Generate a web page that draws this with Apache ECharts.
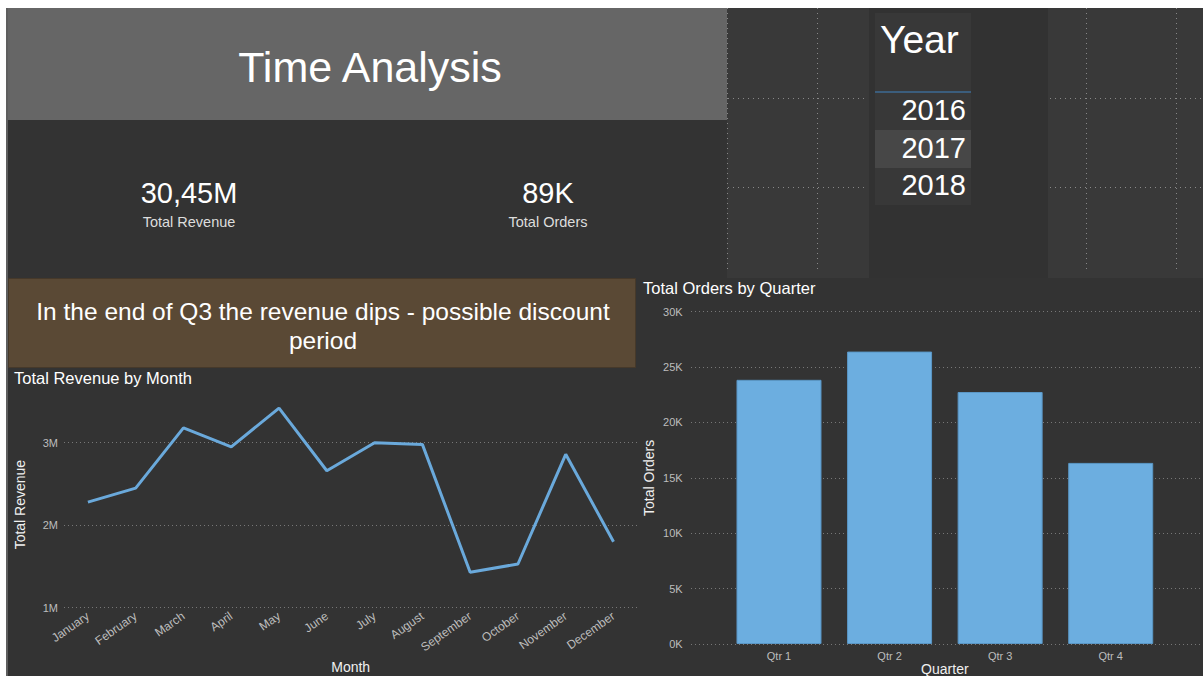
<!DOCTYPE html>
<html>
<head>
<meta charset="utf-8">
<script src="https://cdn.jsdelivr.net/npm/echarts@6/dist/echarts.min.js"></script>
<style>
html,body{margin:0;padding:0;background:#ffffff;}
#chart{width:1203px;height:676px;}
</style>
</head>
<body>
<div id="chart"></div>
<script>
// ---- data ----
const pageTitle = 'Time Analysis';
const kpiValues = ['30,45M', '89K'];
const kpiLabels = ['Total Revenue', 'Total Orders'];
const slicerTitle = 'Year';
const years = ['2016', '2017', '2018'];
const note = 'In the end of Q3 the revenue dips - possible discount\nperiod';

const months = ['January','February','March','April','May','June','July','August','September','October','November','December'];
const revenue = [2280000, 2450000, 3180000, 2950000, 3420000, 2660000, 3000000, 2980000, 1430000, 1530000, 2860000, 1800000];
const revenueTicks = [1000000, 2000000, 3000000];

const quarters = ['Qtr 1', 'Qtr 2', 'Qtr 3', 'Qtr 4'];
const orders = [23850, 26400, 22750, 16350];
const orderTicks = [0, 5000, 10000, 15000, 20000, 25000, 30000];

// ---- chart ----
const chart = echarts.init(document.getElementById('chart'), null, {renderer: 'svg'});
const FONT = '"Liberation Sans", Arial, sans-serif';
const dots = {type: [1, 3], color: '#777', width: 1};

const graphics = [
  // page base
  {type: 'rect', shape: {x: 6, y: 8, width: 1197, height: 668}, style: {fill: '#333333'}, z: -10},
  {type: 'rect', shape: {x: 6, y: 8, width: 2, height: 668}, style: {fill: '#5e5e5e'}, z: -9},
  // header
  {type: 'rect', shape: {x: 8, y: 8, width: 719, height: 112}, style: {fill: '#666666'}, z: -9},
  {type: 'text', x: 370, y: 67, style: {text: pageTitle, font: '43px ' + FONT, fill: '#ffffff', align: 'center', verticalAlign: 'middle'}},
  // KPI cards
  {type: 'text', x: 189, y: 193, style: {text: kpiValues[0], font: '29px ' + FONT, fill: '#ffffff', align: 'center', verticalAlign: 'middle'}},
  {type: 'text', x: 189, y: 222, style: {text: kpiLabels[0], font: '14.5px ' + FONT, fill: '#dddddd', align: 'center', verticalAlign: 'middle'}},
  {type: 'text', x: 548, y: 193, style: {text: kpiValues[1], font: '29px ' + FONT, fill: '#ffffff', align: 'center', verticalAlign: 'middle'}},
  {type: 'text', x: 548, y: 222, style: {text: kpiLabels[1], font: '14.5px ' + FONT, fill: '#dddddd', align: 'center', verticalAlign: 'middle'}},
  // slicer area panels
  {type: 'rect', shape: {x: 727, y: 8, width: 142, height: 270}, style: {fill: '#393939'}, z: -9},
  {type: 'rect', shape: {x: 869, y: 8, width: 179, height: 270}, style: {fill: '#323232'}, z: -9},
  {type: 'rect', shape: {x: 1048, y: 8, width: 155, height: 270}, style: {fill: '#393939'}, z: -9},
  {type: 'line', shape: {x1: 727.5, y1: 8, x2: 727.5, y2: 272}, style: {stroke: '#888', lineDash: [1, 4], lineWidth: 1}, z: -8},
  {type: 'line', shape: {x1: 817.5, y1: 8, x2: 817.5, y2: 272}, style: {stroke: '#888', lineDash: [1, 4], lineWidth: 1}, z: -8},
  {type: 'line', shape: {x1: 728, y1: 98.5, x2: 865, y2: 98.5}, style: {stroke: '#888', lineDash: [1, 4], lineWidth: 1}, z: -8},
  {type: 'line', shape: {x1: 728, y1: 187.5, x2: 865, y2: 187.5}, style: {stroke: '#888', lineDash: [1, 4], lineWidth: 1}, z: -8},
  {type: 'line', shape: {x1: 1086.5, y1: 8, x2: 1086.5, y2: 272}, style: {stroke: '#888', lineDash: [1, 4], lineWidth: 1}, z: -8},
  {type: 'line', shape: {x1: 1176.5, y1: 8, x2: 1176.5, y2: 272}, style: {stroke: '#888', lineDash: [1, 4], lineWidth: 1}, z: -8},
  {type: 'line', shape: {x1: 1050, y1: 98.5, x2: 1203, y2: 98.5}, style: {stroke: '#888', lineDash: [1, 4], lineWidth: 1}, z: -8},
  {type: 'line', shape: {x1: 1050, y1: 187.5, x2: 1203, y2: 187.5}, style: {stroke: '#888', lineDash: [1, 4], lineWidth: 1}, z: -8},
  // slicer
  {type: 'rect', shape: {x: 875, y: 13, width: 96, height: 192}, style: {fill: '#383838'}, z: -7},
  {type: 'rect', shape: {x: 875, y: 91, width: 96, height: 2}, style: {fill: '#3b5d7c'}, z: -6},
  {type: 'rect', shape: {x: 875, y: 130, width: 96, height: 38}, style: {fill: '#474747'}, z: -6},
  {type: 'text', x: 880, y: 39, style: {text: slicerTitle, font: '39px ' + FONT, fill: '#ffffff', align: 'left', verticalAlign: 'middle'}},
  // note box
  {type: 'rect', shape: {x: 8.5, y: 278.5, width: 627, height: 89}, style: {fill: '#5a4935', stroke: '#46392a', lineWidth: 1}, z: -8},
  {type: 'text', x: 323, y: 326, style: {text: note, font: '24.5px ' + FONT, lineHeight: 29, fill: '#ffffff', align: 'center', verticalAlign: 'middle'}},
  // visual titles
  {type: 'text', x: 14, y: 378, style: {text: 'Total Revenue by Month', font: '16.5px ' + FONT, fill: '#ffffff', align: 'left', verticalAlign: 'middle'}},
  {type: 'text', x: 643, y: 288, style: {text: 'Total Orders by Quarter', font: '16.5px ' + FONT, fill: '#ffffff', align: 'left', verticalAlign: 'middle'}}
];
const yearY = [110, 148, 185];
years.forEach((y, i) => {
  graphics.push({type: 'text', x: 966, y: yearY[i], style: {text: y, font: '29px ' + FONT, fill: '#ffffff', align: 'right', verticalAlign: 'middle'}});
});

const option = {
  animation: false,
  backgroundColor: 'transparent',
  textStyle: {fontFamily: FONT},
  graphic: graphics,
  grid: [
    {left: 64, right: 565.6, top: 401.5, bottom: 68.3, containLabel: false, outerBoundsMode: 'none'},
    {left: 723.7, right: 37, top: 311.7, bottom: 32, containLabel: false, outerBoundsMode: 'none'},
    {left: 691, right: 0, top: 311.7, bottom: 32, containLabel: false, outerBoundsMode: 'none'}
  ],
  xAxis: [
    {
      gridIndex: 0, type: 'category', data: months, boundaryGap: true,
      axisLine: {show: false}, axisTick: {show: false},
      axisLabel: {rotate: 35, color: '#bdbdbd', fontSize: 12, margin: 7, interval: 0},
      name: 'Month', nameLocation: 'middle', nameGap: 52,
      nameTextStyle: {color: '#f0f0f0', fontSize: 14}
    },
    {
      gridIndex: 1, type: 'category', data: quarters,
      axisLine: {show: false}, axisTick: {show: false},
      axisLabel: {color: '#bdbdbd', fontSize: 11, margin: 6},
      name: 'Quarter', nameLocation: 'middle', nameGap: 16,
      nameTextStyle: {color: '#f0f0f0', fontSize: 14}
    },
    {gridIndex: 2, type: 'value', min: 0, max: 1, show: false}
  ],
  yAxis: [
    {
      gridIndex: 0, type: 'value', min: revenueTicks[0], max: 3500000, interval: 1000000,
      axisLine: {show: false}, axisTick: {show: false},
      axisLabel: {color: '#bdbdbd', fontSize: 11, margin: 6, showMaxLabel: false,
        formatter: v => (v / 1000000) + 'M'},
      splitLine: {show: true, showMaxLine: false, lineStyle: dots},
      name: 'Total Revenue', nameLocation: 'middle', nameGap: 37,
      nameTextStyle: {color: '#f0f0f0', fontSize: 14}
    },
    {
      gridIndex: 1, type: 'value', min: orderTicks[0], max: orderTicks[orderTicks.length - 1], interval: 5000,
      axisLine: {show: false}, axisTick: {show: false},
      axisLabel: {color: '#bdbdbd', fontSize: 11, margin: 41,
        formatter: v => (v / 1000) + 'K'},
      splitLine: {show: false},
      name: 'Total Orders', nameLocation: 'middle', nameGap: 68,
      nameTextStyle: {color: '#f0f0f0', fontSize: 14}
    },
    {
      gridIndex: 2, type: 'value', min: orderTicks[0], max: orderTicks[orderTicks.length - 1], interval: 5000,
      axisLine: {show: false}, axisTick: {show: false}, axisLabel: {show: false},
      splitLine: {show: true, lineStyle: dots}
    }
  ],
  series: [
    {
      type: 'line', xAxisIndex: 0, yAxisIndex: 0, data: revenue,
      symbol: 'none', lineStyle: {color: '#6aa9db', width: 3},
      itemStyle: {color: '#6aa9db'}, z: 5
    },
    {
      type: 'bar', xAxisIndex: 1, yAxisIndex: 1, data: orders, barWidth: 85,
      itemStyle: {color: '#6caee0', borderColor: '#5a97c6', borderWidth: 1}, z: 5
    }
  ]
};
chart.setOption(option);
</script>
</body>
</html>
